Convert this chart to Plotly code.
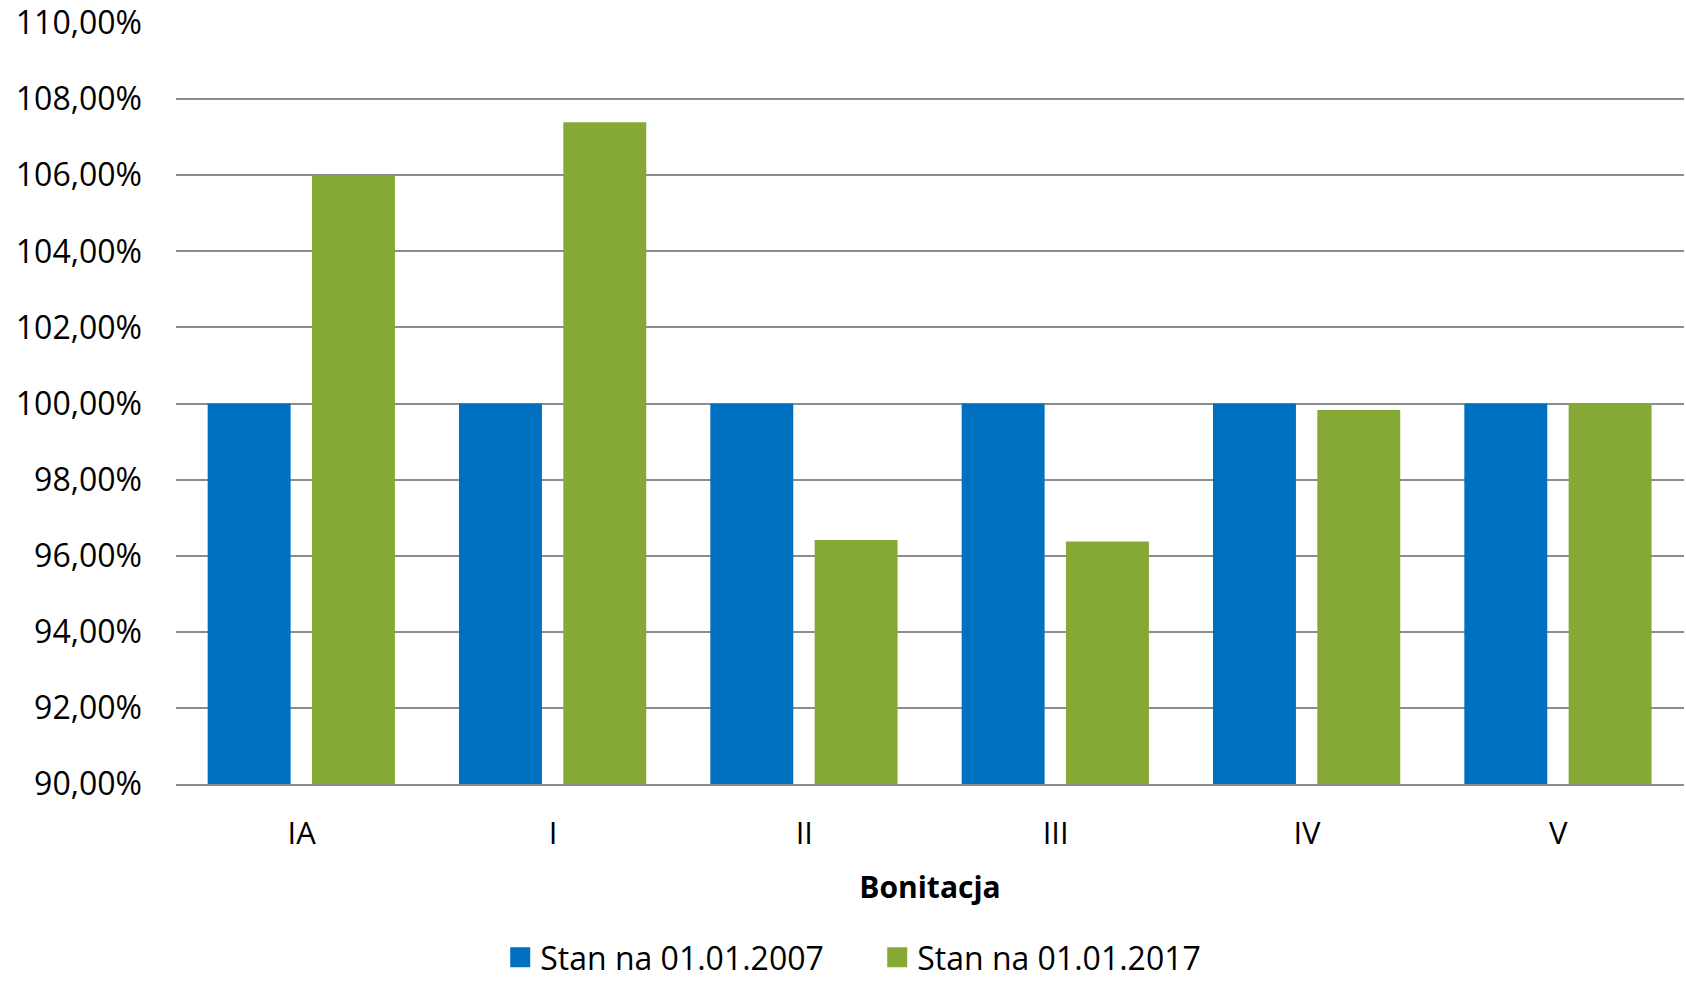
import plotly.graph_objects as go

# Bonitation classes and their share relative to the 2007 baseline (%)
categories = ["IA", "I", "II", "III", "IV", "V"]
stan_2007 = [100.0, 100.0, 100.0, 100.0, 100.0, 100.0]
stan_2017 = [106.0, 107.39, 96.41, 96.37, 99.83, 100.0]
series_names = ["Stan na 01.01.2007", "Stan na 01.01.2017"]
y_ticks = [90, 92, 94, 96, 98, 100, 102, 104, 106, 108, 110]
y_tick_labels = ["90,00%", "92,00%", "94,00%", "96,00%", "98,00%", "100,00%",
                 "102,00%", "104,00%", "106,00%", "108,00%", "110,00%"]

BLUE = "#0070C0"
GREEN = "#86A935"
GRID = "#8C8C8C"
FONT = "Open Sans, Liberation Sans, Arial, sans-serif"

fig = go.Figure()

# bars are placed by hand inside each category slot
bar_width = 0.33
fig.add_trace(go.Bar(
    x=categories, y=stan_2007, name=series_names[0],
    marker=dict(color=BLUE, line=dict(width=0)),
    width=bar_width, offset=-0.374, showlegend=False,
))
fig.add_trace(go.Bar(
    x=categories, y=stan_2017, name=series_names[1],
    marker=dict(color=GREEN, line=dict(width=0)),
    width=bar_width, offset=0.041, showlegend=False,
))

# square legend keys
for name, color in zip(series_names, [BLUE, GREEN]):
    fig.add_trace(go.Scatter(
        x=[None], y=[None], mode="markers", name=name,
        marker=dict(symbol="square", size=16, color=color,
                    line=dict(color=color, width=4)),
        showlegend=True,
    ))

fig.update_layout(
    width=1686, height=986,
    margin=dict(l=176, r=2, t=23, b=202, autoexpand=False),
    paper_bgcolor="white", plot_bgcolor="white",
    barmode="overlay",
    font=dict(family=FONT, size=32, color="#000000"),
    showlegend=True,
    legend=dict(
        orientation="h",
        x=0.215, xanchor="left",
        yref="container", y=0.029, yanchor="middle",
        font=dict(size=32),
        bgcolor="rgba(0,0,0,0)",
        entrywidth=332,
        traceorder="normal",
    ),
)

fig.update_xaxes(
    type="category",
    categoryorder="array", categoryarray=categories,
    showgrid=False,
    showline=True, linecolor=GRID, linewidth=2,
    ticks="", ticklabelstandoff=21,
    tickfont=dict(size=31),
    title=dict(text="<b>Bonitacja</b>", font=dict(size=30), standoff=25),
    automargin=False,
    fixedrange=True,
)
fig.update_yaxes(
    range=[90, 110],
    tickmode="array", tickvals=y_ticks, ticktext=y_tick_labels,
    showgrid=True, gridcolor=GRID, gridwidth=1.5,
    zeroline=False, showline=False,
    ticks="", ticklabelstandoff=33,
    tickfont=dict(size=32),
    automargin=False,
    fixedrange=True,
)

fig.write_html("out.html")
